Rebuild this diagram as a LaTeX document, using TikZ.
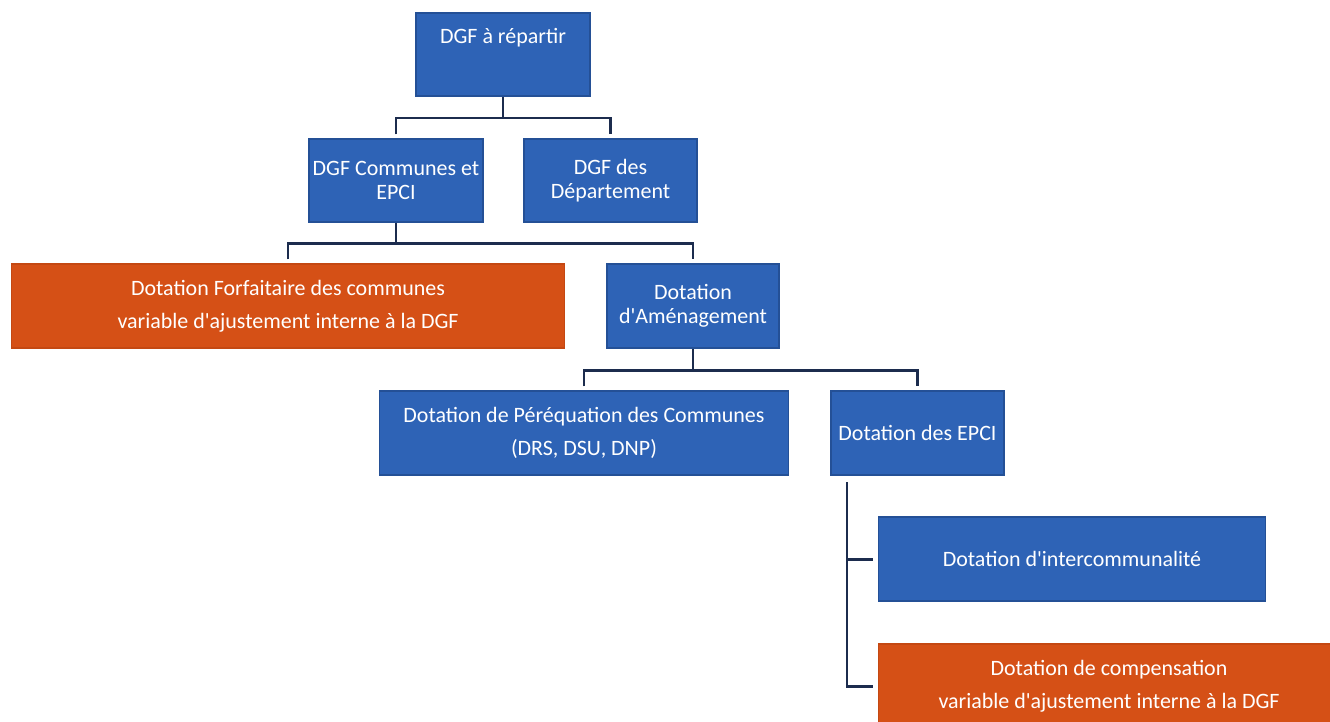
\documentclass[tikz,border=0pt]{standalone}
\usepackage{fontspec}
\setmainfont{Carlito}
\usepackage{tikz}

\definecolor{dgfblue}{RGB}{46,99,182}
\definecolor{dgfblueline}{RGB}{36,80,150}
\definecolor{dgforange}{RGB}{213,80,22}
\definecolor{dgforangeline}{RGB}{196,72,18}
\definecolor{dgfline}{RGB}{28,44,78}

\newcommand{\apos}{\textquotesingle}

\begin{document}
\begin{tikzpicture}[x=0.02cm, y=-0.02cm,
  every node/.style={font=\fontsize{12.5}{13.8}\selectfont, text=white, align=center},
  bluebox/.style={fill=dgfblue, draw=dgfblueline, line width=0.6pt, minimum height=1.66cm, inner sep=0pt},
  orangebox/.style={fill=dgforange, draw=dgforangeline, line width=0.6pt, minimum height=1.68cm, inner sep=0pt},
  conn/.style={draw=dgfline, line width=1.7pt}]
  \useasboundingbox (0,0) rectangle (1330,721);

  \node[bluebox, minimum width=3.48cm,
    label={[anchor=center, yshift=-0.5cm]north:DGF à répartir}] (top) at (503,54.5) {};

  \node[bluebox, minimum width=3.48cm] (com) at (396,180.5) {DGF Communes et\\EPCI};
  \node[bluebox, minimum width=3.46cm] (dep) at (610.5,180.5) {DGF des\\Département};

  \node[orangebox, minimum width=11.08cm] (forf) at (288,306)
    {Dotation Forfaitaire des communes\\[0.17cm]variable d\apos ajustement interne à la DGF};
  \node[bluebox, minimum width=3.44cm, minimum height=1.68cm] (amen) at (693,306) {Dotation\\d\apos Aménagement};

  \node[bluebox, minimum width=8.2cm, minimum height=1.68cm] (perq) at (584,433)
    {Dotation de Péréquation des Communes\\[0.17cm](DRS, DSU, DNP)};
  \node[bluebox, minimum width=3.46cm, minimum height=1.68cm] (epci) at (917.5,433) {Dotation des EPCI};

  \node[bluebox, minimum width=7.76cm, minimum height=1.68cm] (inter) at (1072,559) {Dotation d\apos intercommunalité};
  \node[orangebox, minimum width=9.24cm] (comp) at (1109,686)
    {Dotation de compensation\\[0.17cm]variable d\apos ajustement interne à la DGF};

  % branches
  \coordinate (j1) at (503,118);
  \draw[conn] (top.south) -- (j1);
  \draw[conn] ([yshift=0.08cm]com.north) |- (j1) -| ([yshift=0.08cm]dep.north);

  \coordinate (j2) at (396,243);
  \draw[conn] (com.south) -- (j2);
  \draw[conn] ([yshift=0.08cm]forf.north) |- (j2) -| ([yshift=0.08cm]amen.north);

  \coordinate (j3) at (693,370);
  \draw[conn] (amen.south) -- (j3);
  \draw[conn] ([yshift=0.08cm]perq.north) |- (j3) -| ([yshift=0.08cm]epci.north);

  \coordinate (e0) at (847,482);
  \draw[conn] (e0) |- ([xshift=-0.1cm]comp.west);
  \draw[conn] (e0 |- inter.west) -- ([xshift=-0.1cm]inter.west);
\end{tikzpicture}
\end{document}
